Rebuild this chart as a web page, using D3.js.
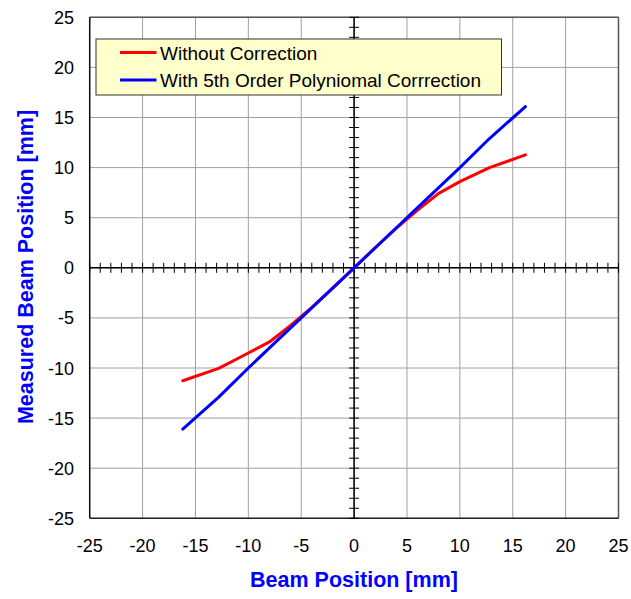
<!DOCTYPE html>
<html><head><meta charset="utf-8">
<script src="https://cdn.jsdelivr.net/npm/d3@7"></script>
<style>body{margin:0;background:#fff}svg{display:block}text{font-family:"Liberation Sans",Arial,sans-serif}</style>
</head><body>
<svg id="c" width="631" height="599"></svg>
<script>
const xPos = [-16.2, -12.8, -10, -8, -6, -4, -2, 0, 2, 4, 6, 8, 10, 12.8, 16.2];
const withoutCorr = [-11.27, -10.03, -8.5, -7.4, -5.75, -3.95, -2.0, 0, 2.0, 3.95, 5.75, 7.43, 8.6, 10.0, 11.27];
const withCorr = [-16.1, -12.9, -10.0, -8.0, -6.0, -4.0, -2.0, 0, 2.0, 4.0, 6.0, 8.0, 10.0, 12.9, 16.08];
const ticks = [-25, -20, -15, -10, -5, 0, 5, 10, 15, 20, 25];
const minorTicks = d3.range(-25, 26, 1);
const seriesNames = ["Without Correction", "With 5th Order Polyniomal Corrrection"];
const seriesColors = ["#ff0000", "#0000ff"];

const svg = d3.select("#c");
const L = 89.7, R = 618.5, T = 17.3, B = 518.3;
const x = d3.scaleLinear().domain([-25, 25]).range([L, R]);
const y = d3.scaleLinear().domain([-25, 25]).range([B, T]);

// grid
svg.append("g").selectAll("line.v").data(ticks).join("line")
  .attr("x1", d => x(d)).attr("x2", d => x(d)).attr("y1", T).attr("y2", B)
  .attr("stroke", "#a0a0a0").attr("stroke-width", 1);
svg.append("g").selectAll("line.h").data(ticks).join("line")
  .attr("y1", d => y(d)).attr("y2", d => y(d)).attr("x1", L).attr("x2", R)
  .attr("stroke", "#a0a0a0").attr("stroke-width", 1);

// border
svg.append("line").attr("x1", L).attr("x2", R).attr("y1", T).attr("y2", T).attr("stroke", "#555").attr("stroke-width", 1.5);
svg.append("line").attr("x1", R).attr("x2", R).attr("y1", T).attr("y2", B).attr("stroke", "#555").attr("stroke-width", 1.5);
svg.append("line").attr("x1", L).attr("x2", R).attr("y1", B).attr("y2", B).attr("stroke", "#222").attr("stroke-width", 1.5);
svg.append("line").attr("x1", L).attr("x2", L).attr("y1", T).attr("y2", B).attr("stroke", "#111").attr("stroke-width", 1.5);

// center axes
svg.append("line").attr("x1", L).attr("x2", R).attr("y1", y(0)).attr("y2", y(0)).attr("stroke", "#000").attr("stroke-width", 1.5);
svg.append("line").attr("x1", x(0)).attr("x2", x(0)).attr("y1", T).attr("y2", B).attr("stroke", "#000").attr("stroke-width", 1.5);
svg.append("g").selectAll("line").data(minorTicks).join("line")
  .attr("x1", d => x(d)).attr("x2", d => x(d)).attr("y1", y(0) - 5).attr("y2", y(0) + 5)
  .attr("stroke", "#000").attr("stroke-width", 1);
svg.append("g").selectAll("line").data(minorTicks).join("line")
  .attr("y1", d => y(d)).attr("y2", d => y(d)).attr("x1", x(0) - 5).attr("x2", x(0) + 5)
  .attr("stroke", "#000").attr("stroke-width", 1);

// tick labels
svg.append("g").selectAll("text").data(ticks).join("text")
  .attr("x", 74).attr("y", d => y(d) + 6.5).attr("text-anchor", "end")
  .attr("font-size", 18).attr("fill", "#000").text(d => d);
svg.append("g").selectAll("text").data(ticks).join("text")
  .attr("x", d => x(d)).attr("y", 552).attr("text-anchor", "middle")
  .attr("font-size", 18).attr("fill", "#000").text(d => d);

// lines
const line = d3.line().x(d => x(d[0])).y(d => y(d[1]));
[withoutCorr, withCorr].forEach((s, i) => {
  svg.append("path").datum(xPos.map((v, j) => [v, s[j]]))
    .attr("d", line).attr("fill", "none").attr("stroke", seriesColors[i])
    .attr("stroke-width", 3).attr("stroke-linejoin", "round").attr("stroke-linecap", "round");
});

// legend
const lg = svg.append("g");
lg.append("rect").attr("x", 96).attr("y", 39).attr("width", 405.5).attr("height", 56)
  .attr("fill", "#ffffcc").attr("stroke", "#333").attr("stroke-width", 1);
seriesNames.forEach((n, i) => {
  const yy = 52.5 + i * 27.5;
  lg.append("line").attr("x1", 120).attr("x2", 156.5).attr("y1", yy).attr("y2", yy)
    .attr("stroke", seriesColors[i]).attr("stroke-width", 3);
  lg.append("text").attr("x", 160).attr("y", yy + 7).attr("font-size", 19).attr("fill", "#000").text(n);
});

// axis titles
svg.append("text").attr("x", 354).attr("y", 587).attr("text-anchor", "middle")
  .attr("font-size", 21.5).attr("font-weight", "bold").attr("fill", "#0000ff").text("Beam Position [mm]");
svg.append("text").attr("transform", "translate(33,267) rotate(-90)").attr("text-anchor", "middle")
  .attr("font-size", 21.5).attr("font-weight", "bold").attr("fill", "#0000ff").text("Measured Beam Position [mm]");
</script>
</body></html>
